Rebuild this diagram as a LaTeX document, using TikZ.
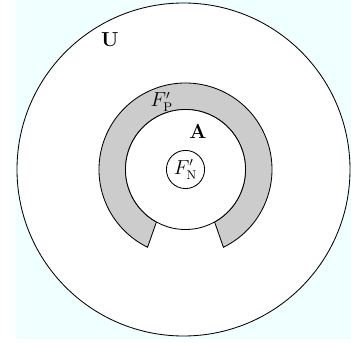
\documentclass[tikz,border=0pt]{standalone}
\usepackage{amsmath}
\usetikzlibrary{calc}
\definecolor{bgcyan}{RGB}{240,255,255}
\tikzset{
  every node/.style={font=\fontsize{13.5}{16}\selectfont},
  setlabel/.style={inner sep=0pt},
  smallset/.style={draw,circle,inner sep=2pt,fill=white}
}

\begin{document}
\begin{tikzpicture}[x=0.025cm,y=0.025cm,line width=0.6pt]
    \useasboundingbox (0,0) rectangle (351,343);
    % 背景
    \fill[bgcyan] (15,4) rectangle (351,343);
    \coordinate (O) at (185.5,173.5);
    % 全集
    \filldraw[fill=white] (183.5,173.5) circle (166.5);
    % 环形区域
    \filldraw[fill=black!20] ($(O)+(-64:86.5)$) arc[start angle=-64, end angle=244, radius=86.5]
        -- ($(O)+(241:60)$) arc[start angle=241, end angle=-61, radius=60] -- cycle;
    % 内圆
    \filldraw[fill=white] (O) circle (60);
    % 标签
    \node[smallset] (FN) at (O) {$F'_{\mathrm{N}}$};
    \node[setlabel] (U) at (110,303) {$\mathbf{U}$};
    \node[setlabel] (FP) at (161.7,241.3) {$F'_{\mathrm{P}}$};
    \node[setlabel] (A) at (198,211) {$\mathbf{A}$};
\end{tikzpicture}
\end{document}
